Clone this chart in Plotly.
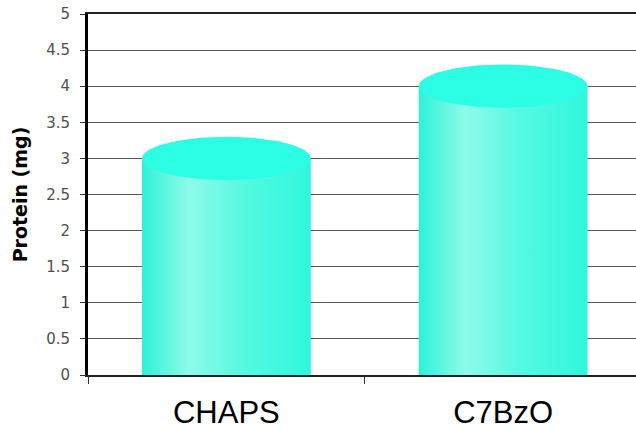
import numpy as np
import plotly.graph_objects as go

# Protein yield by detergent
categories = ["CHAPS", "C7BzO"]
protein_mg = [3.0, 4.0]
y_ticks = [0, 0.5, 1, 1.5, 2, 2.5, 3, 3.5, 4, 4.5, 5]
y_tick_labels = ["0", "0.5", "1", "1.5", "2", "2.5", "3", "3.5", "4", "4.5", "5"]

half_width = 0.305     # half of cylinder width, in category units
cap_ry = 0.30          # vertical radius of the elliptical cap, in mg units
body_scale = [[0.0, "#2cf2d7"], [0.28, "#8ffbe9"], [0.6, "#55f9e2"], [1.0, "#2ff7dc"]]
cap_color = "#2cfde5"

fig = go.Figure()
theta = np.linspace(0, 2 * np.pi, 121)

for i, (name, val) in enumerate(zip(categories, protein_mg)):
    cx = i + 0.5
    x0, x1 = cx - half_width, cx + half_width
    # cylinder body with horizontal shading
    fig.add_trace(go.Scatter(
        x=[x0, x1, x1, x0, x0], y=[0, 0, val, val, 0],
        mode="lines", line=dict(width=0), fill="toself",
        fillgradient=dict(type="horizontal", colorscale=body_scale),
        hoverinfo="skip", showlegend=False,
    ))
    # elliptical top cap
    fig.add_trace(go.Scatter(
        x=cx + half_width * np.cos(theta), y=val + cap_ry * np.sin(theta),
        mode="lines", line=dict(width=0), fill="toself", fillcolor=cap_color,
        name=name, hovertemplate=f"{name}: {val} mg<extra></extra>", showlegend=False,
    ))

fig.update_layout(
    width=636, height=429,
    margin=dict(l=88, r=0, t=14, b=54),
    paper_bgcolor="white", plot_bgcolor="white",
    font=dict(family="Liberation Sans, Arial, sans-serif", color="black"),
    xaxis=dict(
        range=[0, 1.98], tickmode="array", tickvals=[0.5, 1.5], ticktext=categories,
        ticks="", showgrid=False, zeroline=False, automargin=False,
        tickfont=dict(size=31, family="Liberation Sans, Arial, sans-serif", color="black"),
        ticklabelstandoff=9,
        showline=True, linecolor="#222", linewidth=2, mirror=True,
        minor=dict(tickmode="array", tickvals=[0, 1, 2], ticks="outside",
                   ticklen=7, tickwidth=1, tickcolor="#333", showgrid=False),
    ),
    yaxis=dict(
        range=[0, 5], tickmode="array", tickvals=y_ticks, ticktext=y_tick_labels,
        ticks="outside", ticklen=5, tickwidth=1, tickcolor="#333",
        tickfont=dict(size=15, family="DejaVu Sans, sans-serif", color="#505050"),
        ticklabelstandoff=7, automargin=False,
        showgrid=True, gridcolor="#555", gridwidth=1, zeroline=False,
        showline=True, linecolor="black", linewidth=3,
        title=dict(text="<b>Protein (mg)</b>", standoff=14,
                   font=dict(size=19, family="DejaVu Sans, sans-serif", color="black")),
    ),
)

fig.write_html("out.html")
